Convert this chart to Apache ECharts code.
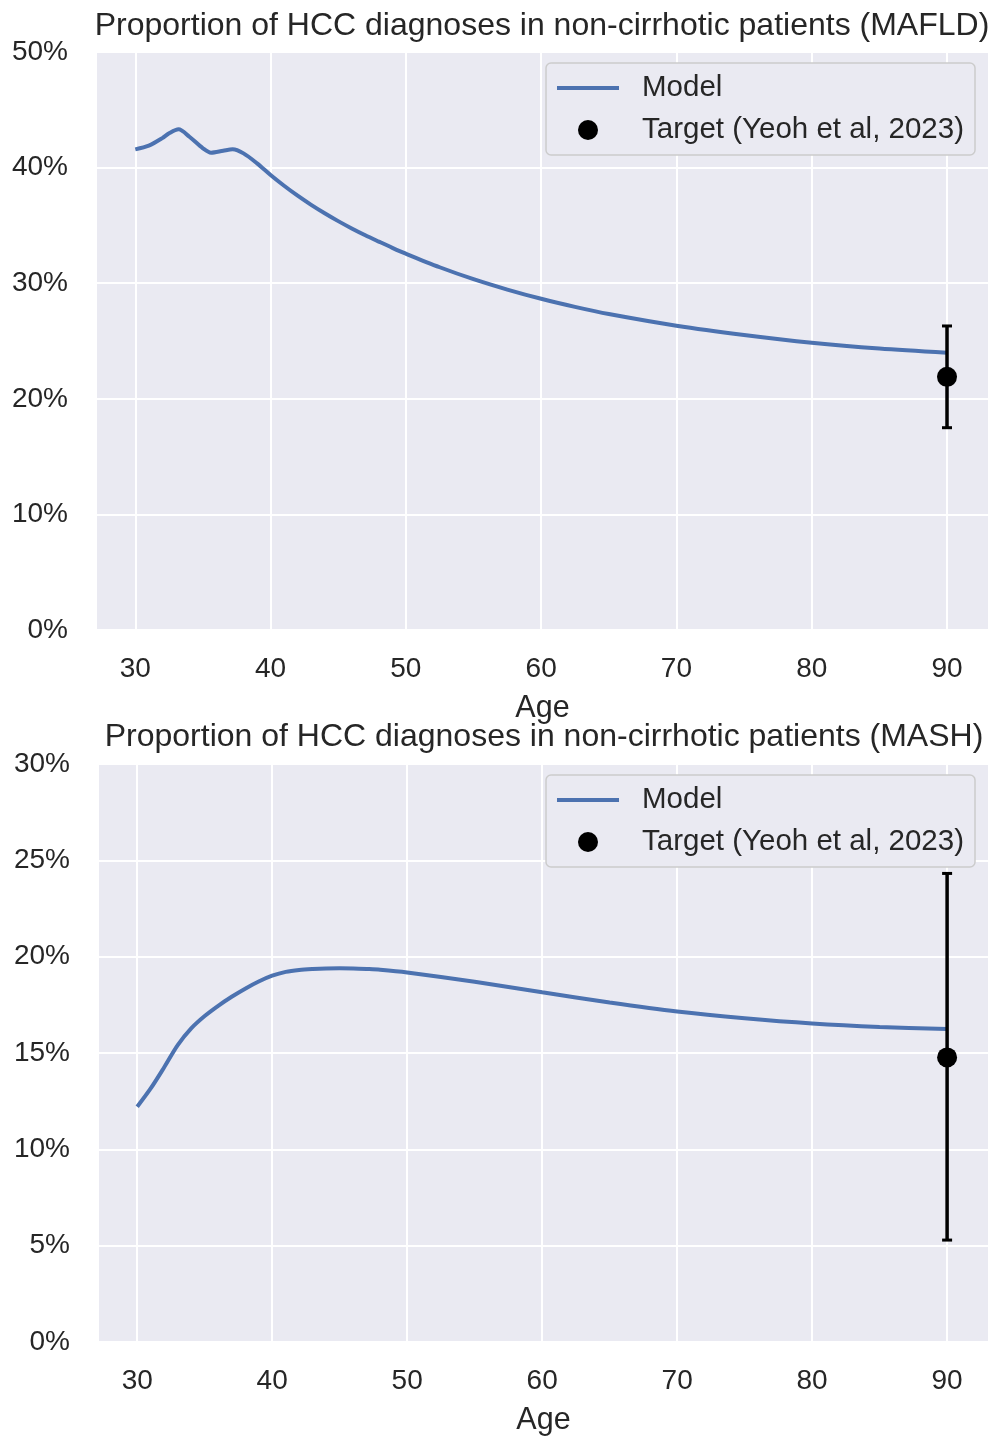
<!DOCTYPE html>
<html>
<head>
<meta charset="utf-8">
<title>Proportion of HCC diagnoses in non-cirrhotic patients</title>
<script src="https://cdn.jsdelivr.net/npm/echarts@6/dist/echarts.min.js"></script>
<style>
  html, body { margin: 0; padding: 0; background: #fff; }
  #chart { width: 994px; height: 1441px; }
</style>
</head>
<body>
<div id="chart"></div>
<script>
// ages along the model curves
const mafldAges = [30, 31, 32, 32.5, 33.2, 34, 35, 35.6, 36.5, 37.2, 38, 39, 40, 41, 42, 43, 44, 45, 46, 47, 48, 49, 50, 52.5, 55, 57.5, 60, 62.5, 65, 70, 75, 80, 85, 90];
const mafldModel = [0.4158, 0.419, 0.4255, 0.4297, 0.4331, 0.4267, 0.4167, 0.4129, 0.4146, 0.4158, 0.4123, 0.4037, 0.3936, 0.3843, 0.3757, 0.3678, 0.3605, 0.3537, 0.3474, 0.3415, 0.336, 0.3306, 0.3255, 0.3138, 0.3035, 0.2945, 0.2865, 0.2795, 0.2733, 0.2632, 0.2552, 0.2485, 0.2435, 0.2399];

const mashAges = [30, 31, 32, 33, 34, 35, 36, 37, 38, 39, 40, 41, 42, 43, 44, 45, 46, 47, 48, 50, 55, 60, 65, 70, 75, 80, 85, 90];
const mashModel = [0.1221, 0.1316, 0.1426, 0.1541, 0.1628, 0.1692, 0.1745, 0.1792, 0.1834, 0.1871, 0.1901, 0.1921, 0.1931, 0.1936, 0.1939, 0.194, 0.1939, 0.1936, 0.1932, 0.1918, 0.187, 0.1815, 0.1762, 0.1715, 0.168, 0.1653, 0.1635, 0.1624];

// target (Yeoh et al, 2023): [age, value, low, high]
const mafldTarget = [90, 0.219, 0.175, 0.263];
const mashTarget = [90, 0.1477, 0.0529, 0.2432];

const xTicks = [30, 40, 50, 60, 70, 80, 90];
const titles = [
  'Proportion of HCC diagnoses in non-cirrhotic patients (MAFLD)',
  'Proportion of HCC diagnoses in non-cirrhotic patients (MASH)'
];
const legendNames = ['Model', 'Target (Yeoh et al, 2023)'];

const FONT = '"Liberation Sans", Arial, Helvetica, sans-serif';
const TXT = '#262626';
const BLUE = '#4c72b0';

const chart = echarts.init(document.getElementById('chart'), null, {renderer: 'canvas'});

function xAxisFor(i) {
  return {
    gridIndex: i,
    type: 'value',
    min: 27.17,
    max: 93.03,
    axisLine: {show: false},
    axisTick: {show: false, customValues: xTicks},
    axisLabel: {customValues: xTicks, fontSize: 28, color: TXT, fontFamily: FONT, margin: 25},
    splitLine: {show: true, lineStyle: {color: '#ffffff', width: 2}},
    name: 'Age',
    nameLocation: 'middle',
    nameGap: 63,
    nameTextStyle: {fontSize: 30.5, color: TXT, fontFamily: FONT}
  };
}

function yAxisFor(i, max, step) {
  return {
    gridIndex: i,
    type: 'value',
    min: 0,
    max: max,
    interval: step,
    axisLine: {show: false},
    axisTick: {show: false},
    axisLabel: {
      fontSize: 28, color: TXT, fontFamily: FONT, margin: 29,
      formatter: v => Math.round(v * 100) + '%'
    },
    splitLine: {show: true, lineStyle: {color: '#ffffff', width: 2}}
  };
}

function legendFor(top) {
  return {
    orient: 'vertical',
    right: 19,
    top: top,
    data: [
      {name: legendNames[0], icon: 'path://M0,0 L62,0 L62,0 Z M0,8 L62,8 L62,12 L0,12 Z M0,20 L62,20 L62,20 Z'},
      {name: legendNames[1]}
    ],
    itemWidth: 62,
    itemHeight: 20,
    itemGap: 12,
    padding: [10, 11],
    backgroundColor: '#eaeaf2',
    borderColor: '#cccccc',
    borderWidth: 1.5,
    borderRadius: 5,
    selectedMode: false,
    textStyle: {fontSize: 29.5, color: TXT, fontFamily: FONT, lineHeight: 30, padding: [0, 0, 0, 18]}
  };
}

function seriesFor(i, ages, model, target) {
  return [
    {
      name: legendNames[0],
      type: 'line',
      xAxisIndex: i, yAxisIndex: i,
      data: ages.map((a, k) => [a, model[k]]),
      smooth: 0.3,
      symbol: 'none',
      color: BLUE,
      lineStyle: {color: BLUE, width: 4},
      z: 3
    },
    {
      name: 'errorbar' + i,
      type: 'line',
      xAxisIndex: i, yAxisIndex: i,
      data: [[target[0], target[2]], [target[0], target[3]]],
      symbol: 'rect',
      symbolSize: [10, 3],
      color: '#000',
      itemStyle: {color: '#000', opacity: 1},
      lineStyle: {color: '#000', width: 3.5},
      z: 4
    },
    {
      name: legendNames[1],
      type: 'scatter',
      xAxisIndex: i, yAxisIndex: i,
      data: [[target[0], target[1]]],
      symbol: 'circle',
      symbolSize: 20,
      color: '#000',
      itemStyle: {color: '#000', opacity: 1},
      z: 5
    }
  ];
}

chart.setOption({
  animation: false,
  backgroundColor: '#ffffff',
  textStyle: {fontFamily: FONT},
  graphic: [
    {type: 'text', x: 542, y: 26, style: {text: titles[0], font: '32px ' + FONT, fill: TXT, textAlign: 'center', textVerticalAlign: 'middle'}},
    {type: 'text', x: 544, y: 737, style: {text: titles[1], font: '32px ' + FONT, fill: TXT, textAlign: 'center', textVerticalAlign: 'middle'}}
  ],
  grid: [
    {left: 97, right: 6, top: 52, height: 578, show: true, backgroundColor: '#eaeaf2', borderWidth: 0},
    {left: 99, right: 6, top: 764, height: 578, show: true, backgroundColor: '#eaeaf2', borderWidth: 0}
  ],
  xAxis: [xAxisFor(0), xAxisFor(1)],
  yAxis: [yAxisFor(0, 0.5, 0.1), yAxisFor(1, 0.3, 0.05)],
  legend: [legendFor(63), legendFor(775)],
  series: seriesFor(0, mafldAges, mafldModel, mafldTarget)
    .concat(seriesFor(1, mashAges, mashModel, mashTarget))
});
</script>
</body>
</html>
